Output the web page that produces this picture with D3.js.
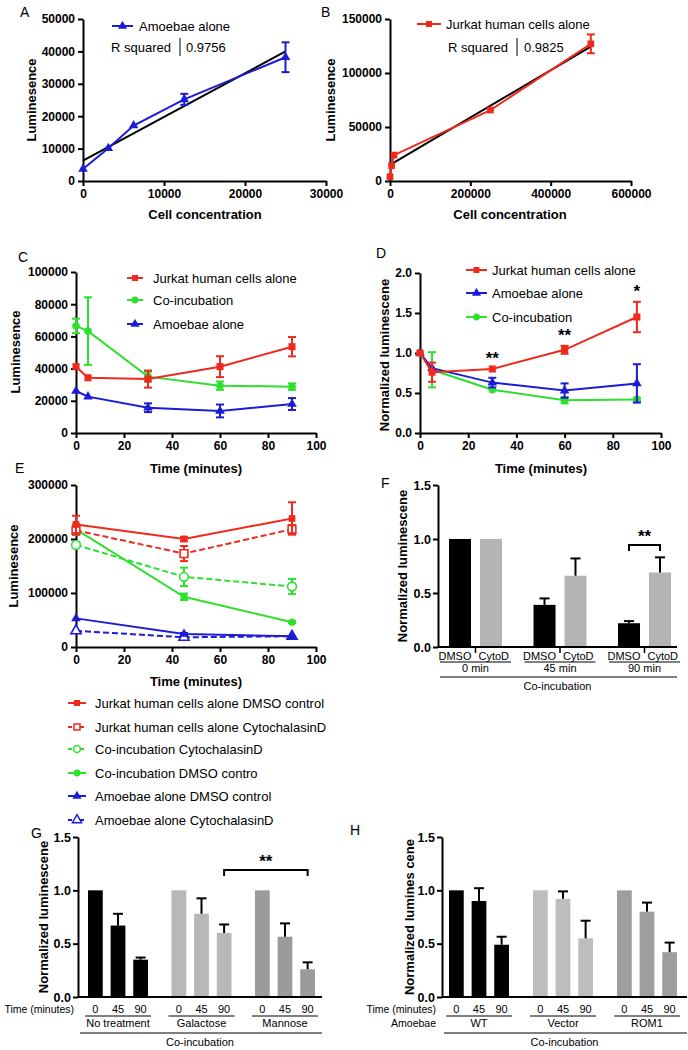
<!DOCTYPE html>
<html><head><meta charset="utf-8">
<script src="https://cdn.jsdelivr.net/npm/d3@7"></script>
<style>body{margin:0;background:#fff}svg{display:block}</style>
</head><body><script>
// ---------------- DATA ----------------
// Panel A
const aConc = [0, 3125, 6250, 12500, 25000];
const aLum = [3700, 10100, 17100, 25200, 38200];
const aErr = [0, 0, 0, 1700, 4600];
const aFitX = [0, 25000];
const aFitY = [6300, 40000];
const aR2 = "0.9756";
// Panel B
const bConc = [0, 4000, 10000, 250000, 500000];
const bLum = [4000, 14200, 24000, 65700, 127000];
const bErr = [0, 0, 0, 0, 8700];
const bFitX = [0, 500000];
const bFitY = [15000, 124500];
const bR2 = "0.9825";
// Panel C
const timeC = [0, 5, 30, 60, 90];
const cJurkat = [41200, 34300, 33500, 41200, 53600];
const cJurkatErr = [0, 0, 5300, 6500, 6000];
const cCoinc = [66500, 63300, 35000, 29400, 28800];
const cCoincErr = [4500, 21000, 3000, 2600, 2000];
const cAmoeba = [26100, 22600, 15700, 13700, 18000];
const cAmoebaErr = [0, 0, 2700, 4000, 3700];
// Panel D
const timeD = [0, 5, 30, 60, 90];
const dJurkat = [1.0, 0.76, 0.80, 1.04, 1.45];
const dJurkatErr = [0, 0.12, 0, 0.05, 0.19];
const dAmoeba = [1.0, 0.81, 0.63, 0.53, 0.62];
const dAmoebaErr = [0, 0, 0.06, 0.09, 0.24];
const dCoinc = [1.0, 0.79, 0.54, 0.41, 0.42];
const dCoincErr = [0, 0.22, 0, 0.04, 0.02];
const dStars = ["", "", "**", "**", "*"];
// Panel E
const timeE = [0, 45, 90];
const eJurkatDMSO = [227000, 200000, 238000];
const eJurkatDMSOErr = [16000, 4000, 30000];
const eJurkatCyto = [216000, 173000, 218000];
const eJurkatCytoErr = [8000, 14000, 8000];
const eCoincCyto = [189000, 130000, 112000];
const eCoincCytoErr = [5000, 17000, 14000];
const eCoincDMSO = [218000, 93000, 46000];
const eCoincDMSOErr = [10000, 6000, 2000];
const eAmoebaDMSO = [53000, 24000, 20000];
const eAmoebaDMSOErr = [0, 2000, 0];
const eAmoebaCyto = [30000, 18000, 20000];
const eAmoebaCytoErr = [0, 3000, 0];
const eLegend = ["Jurkat human cells alone DMSO control", "Jurkat human cells alone CytochalasinD",
  "Co-incubation CytochalasinD", "Co-incubation DMSO contro", "Amoebae alone DMSO control", "Amoebae alone CytochalasinD"];
// Panel F
const fGroups = ["0 min", "45 min", "90 min"];
const fTreat = ["DMSO", "CytoD"];
const fDMSO = [1.0, 0.39, 0.22];
const fDMSOErr = [0, 0.06, 0.02];
const fCyto = [1.0, 0.66, 0.69];
const fCytoErr = [0, 0.16, 0.14];
// Panel G
const gGroups = ["No treatment", "Galactose", "Mannose"];
const gTimes = ["0", "45", "90"];
const gNoTreat = [1.0, 0.67, 0.35];
const gNoTreatErr = [0, 0.11, 0.02];
const gGal = [1.0, 0.78, 0.60];
const gGalErr = [0, 0.145, 0.08];
const gMan = [1.0, 0.565, 0.26];
const gManErr = [0, 0.125, 0.065];
// Panel H
const hGroups = ["WT", "Vector", "ROM1"];
const hTimes = ["0", "45", "90"];
const hWT = [1.0, 0.90, 0.49];
const hWTErr = [0, 0.12, 0.075];
const hVector = [1.0, 0.92, 0.55];
const hVectorErr = [0, 0.07, 0.165];
const hROM1 = [1.0, 0.80, 0.42];
const hROM1Err = [0, 0.085, 0.09];

// ---------------- STYLE ----------------
const FONT = "'Liberation Sans', Arial, sans-serif";
const RED = "#ee2a1e", GREEN = "#2ee02e", BLUE = "#1c1cd6";
const svg = d3.select("body").append("svg").attr("width", 688).attr("height", 1050)
  .attr("font-family", FONT);
svg.append("rect").attr("width", 688).attr("height", 1050).attr("fill", "#fff");

function txt(x, y, s, o = {}) {
  const t = svg.append("text").attr("x", x).attr("y", y).text(s)
    .attr("font-size", o.size || 13).attr("font-weight", o.bold ? "bold" : "normal")
    .attr("text-anchor", o.anchor || "start").attr("fill", o.fill || "#000");
  if (o.rot) t.attr("transform", `rotate(-90,${x},${y})`);
  return t;
}
function styleAxis(a, fs) {
  a.attr("font-family", FONT);
  a.select(".domain").attr("stroke", "#000").attr("stroke-width", 2);
  a.selectAll(".tick line").attr("stroke", "#000").attr("stroke-width", 2);
  a.selectAll("text").attr("font-size", fs || 12).attr("font-weight", "bold").attr("fill", "#000");
}
function xyPanel(o) {
  const x = d3.scaleLinear().domain(o.xd).range(o.xr);
  const y = d3.scaleLinear().domain(o.yd).range(o.yr);
  const g = svg.append("g");
  const ax = g.append("g").attr("transform", `translate(0,${o.yr[0]})`)
    .call(d3.axisBottom(x).tickValues(o.xt).tickSize(5).tickSizeOuter(0).tickPadding(3).tickFormat(d3.format("d")));
  const ay = g.append("g").attr("transform", `translate(${o.xr[0]},0)`)
    .call(d3.axisLeft(y).tickValues(o.yt).tickSize(5).tickSizeOuter(0).tickPadding(3).tickFormat(o.yfmt || d3.format("d")));
  styleAxis(ax, o.fs); styleAxis(ay, o.fs);
  return { x, y, g };
}
function drawSeries(P, xs, ys, es, s) {
  const pts = xs.map((d, i) => ({ x: d, y: ys[i], e: es ? es[i] : 0 }));
  P.g.append("path").datum(pts).attr("fill", "none").attr("stroke", s.color).attr("stroke-width", 2)
    .attr("stroke-dasharray", s.dash ? "6,3" : null)
    .attr("d", d3.line().x(d => P.x(d.x)).y(d => P.y(d.y)));
  const eb = P.g.append("g").attr("stroke", s.color).attr("stroke-width", 2);
  pts.filter(d => d.e > 0).forEach(d => {
    const cx = P.x(d.x), y1 = P.y(d.y + d.e), y2 = P.y(d.y - d.e);
    eb.append("line").attr("x1", cx).attr("x2", cx).attr("y1", y1).attr("y2", y2);
    [y1, y2].forEach(yy => eb.append("line").attr("x1", cx - 4).attr("x2", cx + 4).attr("y1", yy).attr("y2", yy));
  });
  P.g.append("g").selectAll("path").data(pts).enter().append("path")
    .attr("transform", d => `translate(${P.x(d.x)},${P.y(d.y)})`)
    .attr("d", d3.symbol().type(s.sym).size(s.size || 45))
    .attr("fill", s.open ? "#fff" : s.color).attr("stroke", s.color).attr("stroke-width", s.open ? 1.6 : 0);
}
function legendItem(x1, x2, cy, tx, label, s, fs) {
  svg.append("line").attr("x1", x1).attr("x2", x2).attr("y1", cy).attr("y2", cy)
    .attr("stroke", s.color).attr("stroke-width", 2).attr("stroke-dasharray", s.dash ? "4,2" : null);
  svg.append("path").attr("transform", `translate(${(x1 + x2) / 2},${cy})`)
    .attr("d", d3.symbol().type(s.sym).size(s.lsize || 36))
    .attr("fill", s.open ? "#fff" : s.color).attr("stroke", s.color).attr("stroke-width", s.open ? 1.5 : 0);
  txt(tx, cy + 4.5, label, { size: fs || 13 });
}

const SQ = d3.symbolSquare, CI = d3.symbolCircle, TR = d3.symbolTriangle;

// ---------------- PANEL A ----------------
{
  const P = xyPanel({ xd: [0, 30000], xr: [83, 326], yd: [0, 50000], yr: [181, 19],
    xt: [0, 10000, 20000, 30000], yt: [0, 10000, 20000, 30000, 40000, 50000] });
  P.g.append("path").datum(aFitX.map((d, i) => [d, aFitY[i]])).attr("stroke", "#000").attr("stroke-width", 2)
    .attr("fill", "none").attr("d", d3.line().x(d => P.x(d[0])).y(d => P.y(d[1])));
  drawSeries(P, aConc, aLum, aErr, { color: BLUE, sym: TR, size: 40 });
  legendItem(112, 133, 26, 139, "Amoebae alone", { color: BLUE, sym: TR });
  txt(111, 52, "R squared", { size: 13 });
  svg.append("line").attr("x1", 180).attr("x2", 180).attr("y1", 38).attr("y2", 56).attr("stroke", "#000").attr("stroke-width", 1);
  txt(186, 52, aR2, { size: 13 });
  txt(205, 219, "Cell concentration", { size: 13, bold: true, anchor: "middle" });
  txt(36, 100, "Luminesence", { size: 13, bold: true, anchor: "middle", rot: true });
  txt(20, 17, "A", { size: 14 });
}
// ---------------- PANEL B ----------------
{
  const P = xyPanel({ xd: [0, 600000], xr: [390, 631], yd: [0, 150000], yr: [181, 19],
    xt: [0, 200000, 400000, 600000], yt: [0, 50000, 100000, 150000] });
  P.g.append("path").datum(bFitX.map((d, i) => [d, bFitY[i]])).attr("stroke", "#000").attr("stroke-width", 2)
    .attr("fill", "none").attr("d", d3.line().x(d => P.x(d[0])).y(d => P.y(d[1])));
  drawSeries(P, bConc, bLum, bErr, { color: RED, sym: SQ, size: 45 });
  legendItem(417, 441, 24, 446, "Jurkat human cells alone", { color: RED, sym: SQ });
  txt(448, 52, "R squared", { size: 13 });
  svg.append("line").attr("x1", 517).attr("x2", 517).attr("y1", 38).attr("y2", 56).attr("stroke", "#000").attr("stroke-width", 1);
  txt(524, 52, bR2, { size: 13 });
  txt(510, 219, "Cell concentration", { size: 13, bold: true, anchor: "middle" });
  txt(335, 100, "Luminesence", { size: 13, bold: true, anchor: "middle", rot: true });
  txt(321, 17, "B", { size: 14 });
}
// ---------------- PANEL C ----------------
{
  const P = xyPanel({ xd: [0, 100], xr: [76, 316], yd: [0, 100000], yr: [433, 272],
    xt: [0, 20, 40, 60, 80, 100], yt: [0, 20000, 40000, 60000, 80000, 100000] });
  drawSeries(P, timeC, cAmoeba, cAmoebaErr, { color: BLUE, sym: TR, size: 40 });
  drawSeries(P, timeC, cCoinc, cCoincErr, { color: GREEN, sym: CI, size: 45 });
  drawSeries(P, timeC, cJurkat, cJurkatErr, { color: RED, sym: SQ, size: 50 });
  legendItem(127, 143, 278, 153, "Jurkat human  cells alone", { color: RED, sym: SQ });
  legendItem(127, 143, 300, 153, "Co-incubation", { color: GREEN, sym: CI });
  legendItem(127, 143, 324, 153, "Amoebae alone", { color: BLUE, sym: TR });
  txt(196, 473, "Time (minutes)", { size: 13, bold: true, anchor: "middle" });
  txt(20, 352, "Luminesence", { size: 13, bold: true, anchor: "middle", rot: true });
  txt(18, 262, "C", { size: 14 });
}
// ---------------- PANEL D ----------------
{
  const P = xyPanel({ xd: [0, 100], xr: [420, 661], yd: [0, 2], yr: [433, 273],
    xt: [0, 20, 40, 60, 80, 100], yt: [0, 0.5, 1, 1.5, 2], yfmt: d3.format(".1f") });
  drawSeries(P, timeD, dCoinc, dCoincErr, { color: GREEN, sym: CI, size: 45 });
  drawSeries(P, timeD, dAmoeba, dAmoebaErr, { color: BLUE, sym: TR, size: 40 });
  drawSeries(P, timeD, dJurkat, dJurkatErr, { color: RED, sym: SQ, size: 50 });
  P.g.selectAll(".star").data(timeD.map((t, i) => ({ t, s: dStars[i], v: dJurkat[i] + dJurkatErr[i] })).filter(d => d.s))
    .enter().append("text").attr("x", d => P.x(d.t)).attr("y", d => P.y(d.v) - 5)
    .attr("text-anchor", "middle").attr("font-size", 17).attr("font-weight", "bold").text(d => d.s);
  legendItem(466, 487, 270, 492, "Jurkat human cells alone", { color: RED, sym: SQ });
  legendItem(466, 487, 293, 492, "Amoebae alone", { color: BLUE, sym: TR });
  legendItem(466, 487, 317, 492, "Co-incubation", { color: GREEN, sym: CI });
  txt(541, 473, "Time (minutes)", { size: 13, bold: true, anchor: "middle" });
  txt(389, 355, "Normalized luminescene", { size: 13, bold: true, anchor: "middle", rot: true });
  txt(376, 258, "D", { size: 14 });
}
// ---------------- PANEL E ----------------
{
  const P = xyPanel({ xd: [0, 100], xr: [76, 316], yd: [0, 300000], yr: [647, 485],
    xt: [0, 20, 40, 60, 80, 100], yt: [0, 100000, 200000, 300000] });
  const ss = [
    { d: eAmoebaCyto, e: eAmoebaCytoErr, s: { color: BLUE, sym: TR, open: true, dash: true, size: 45 } },
    { d: eAmoebaDMSO, e: eAmoebaDMSOErr, s: { color: BLUE, sym: TR, size: 40 } },
    { d: eCoincCyto, e: eCoincCytoErr, s: { color: GREEN, sym: CI, open: true, dash: true, size: 60 } },
    { d: eCoincDMSO, e: eCoincDMSOErr, s: { color: GREEN, sym: CI, size: 40 } },
    { d: eJurkatCyto, e: eJurkatCytoErr, s: { color: RED, sym: SQ, open: true, dash: true, size: 60 } },
    { d: eJurkatDMSO, e: eJurkatDMSOErr, s: { color: RED, sym: SQ, size: 45 } },
  ];
  ss.forEach(o => drawSeries(P, timeE, o.d, o.e, o.s));
  txt(196, 686, "Time (minutes)", { size: 13, bold: true, anchor: "middle" });
  txt(18, 566, "Luminesence", { size: 13, bold: true, anchor: "middle", rot: true });
  txt(15, 473, "E", { size: 14 });
  const legS = [
    { color: RED, sym: SQ }, { color: RED, sym: SQ, open: true, dash: true },
    { color: GREEN, sym: CI, open: true, dash: true }, { color: GREEN, sym: CI },
    { color: BLUE, sym: TR }, { color: BLUE, sym: TR, open: true, dash: true }];
  const legY = [703, 727, 749, 773, 796, 820];
  eLegend.forEach((l, i) => legendItem(68, 86, legY[i], 95, l, legS[i], 13));
}
// ---------------- BAR PANELS ----------------
function barPanel(o) {
  const y = d3.scaleLinear().domain([0, 1.5]).range(o.yr);
  const x0 = d3.scaleBand().domain(o.groups).range(o.gr).paddingInner(o.gpad).paddingOuter(0);
  const x1 = d3.scaleBand().domain(o.subs).range([0, x0.bandwidth()]).paddingInner(o.spad).paddingOuter(0);
  const g = svg.append("g");
  const recs = [];
  o.groups.forEach((gr, gi) => o.subs.forEach((sb, si) => {
    recs.push({ gr, sb, si, v: o.val(gi, si), e: o.err(gi, si), c: o.color(gi, si) });
  }));
  g.selectAll("rect").data(recs).enter().append("rect")
    .attr("x", d => x0(d.gr) + x1(d.sb)).attr("width", x1.bandwidth())
    .attr("y", d => y(d.v)).attr("height", d => y(0) - y(d.v)).attr("fill", d => d.c);
  const eg = g.append("g").attr("stroke", "#000").attr("stroke-width", 2);
  recs.filter(d => d.e > 0).forEach(d => {
    const cx = x0(d.gr) + x1(d.sb) + x1.bandwidth() / 2;
    eg.append("line").attr("x1", cx).attr("x2", cx).attr("y1", y(d.v)).attr("y2", y(d.v + d.e));
    eg.append("line").attr("x1", cx - 5).attr("x2", cx + 5).attr("y1", y(d.v + d.e)).attr("y2", y(d.v + d.e));
  });
  const ay = g.append("g").attr("transform", `translate(${o.ax},0)`)
    .call(d3.axisLeft(y).tickValues([0, 0.5, 1, 1.5]).tickSize(5).tickSizeOuter(0).tickPadding(2).tickFormat(d3.format(".1f")));
  styleAxis(ay, 12.5);
  g.append("line").attr("x1", o.ax).attr("x2", o.axEnd).attr("y1", y(0)).attr("y2", y(0)).attr("stroke", "#000").attr("stroke-width", 2);
  // sub labels
  recs.forEach(d => {
    if (o.subPlace) {
      const p = o.subPlace(d, x0, x1);
      txt(p.x, o.subY, d.sb, { size: 11, anchor: p.anchor });
    } else {
      txt(x0(d.gr) + x1(d.sb) + x1.bandwidth() / 2, o.subY, d.sb, { size: 11, anchor: "middle" });
    }
  });
  o.groups.forEach(gr => {
    const a = x0(gr) - o.ulExt, b = x0(gr) + x0.bandwidth() + o.ulExt;
    svg.append("line").attr("x1", a).attr("x2", b).attr("y1", o.ulY).attr("y2", o.ulY).attr("stroke", "#000").attr("stroke-width", 1);
    txt((a + b) / 2, o.grY, gr, { size: 11, anchor: "middle" });
  });
  svg.append("line").attr("x1", o.ax + 2).attr("x2", o.axEnd).attr("y1", o.longY).attr("y2", o.longY).attr("stroke", "#000").attr("stroke-width", 1);
  txt((o.ax + o.axEnd) / 2, o.longY + 13, "Co-incubation", { size: 11, anchor: "middle" });
  return { y, x0, x1, g };
}
// Panel F
{
  const B = barPanel({ yr: [647, 485], groups: fGroups, subs: fTreat, gr: [449, 671], gpad: 0.373, spad: 0.29,
    val: (g, s) => s === 0 ? fDMSO[g] : fCyto[g], err: (g, s) => s === 0 ? fDMSOErr[g] : fCytoErr[g],
    color: (g, s) => s === 0 ? "#000" : "#b4b4b4", ax: 438, axEnd: 677,
    subPlace: (d, x0, x1) => {
      const mid = x0(d.gr) + x0.bandwidth() / 2;
      return d.si === 0 ? { x: mid - 4, anchor: "end" } : { x: mid + 3, anchor: "start" };
    },
    subY: 660, ulY: 662, ulExt: 9, grY: 672, longY: 677 });
  // small ticks between sub bars
  fGroups.forEach(gr => {
    const xm = B.x0(gr) + B.x0.bandwidth() / 2;
    svg.append("line").attr("x1", xm).attr("x2", xm).attr("y1", 648).attr("y2", 653).attr("stroke", "#000").attr("stroke-width", 1.5);
  });
  const gr = fGroups[2];
  const xa = B.x0(gr) + B.x1(fTreat[0]) + B.x1.bandwidth() / 2, xb = B.x0(gr) + B.x1(fTreat[1]) + B.x1.bandwidth() / 2;
  svg.append("path").attr("d", `M${xa},551V545H${xb}V551`).attr("fill", "none").attr("stroke", "#000").attr("stroke-width", 2);
  txt((xa + xb) / 2, 542, "**", { size: 17, bold: true, anchor: "middle" });
  txt(407, 566, "Normalized luminescene", { size: 13, bold: true, anchor: "middle", rot: true });
  txt(381, 488, "F", { size: 14 });
}
// Panel G
{
  const gVals = [gNoTreat, gGal, gMan], gErrs = [gNoTreatErr, gGalErr, gManErr];
  const gCols = ["#000", "#b8b8b8", "#9b9b9b"];
  const B = barPanel({ yr: [997, 837], groups: gGroups, subs: gTimes, gr: [88, 315], gpad: 0.2814, spad: 0.348,
    val: (g, s) => gVals[g][s], err: (g, s) => gErrs[g][s], color: (g) => gCols[g], ax: 78, axEnd: 322,
    subY: 1013, ulY: 1016, ulExt: 3, grY: 1027, longY: 1033 });
  txt(74, 1013, "Time (minutes)", { size: 10.5, anchor: "end" });
  const xa = B.x0(gGroups[1]) + B.x1(gTimes[2]) + B.x1.bandwidth() / 2, xb = B.x0(gGroups[2]) + B.x1(gTimes[2]) + B.x1.bandwidth() / 2;
  svg.append("path").attr("d", `M${xa},876V870H${xb}V876`).attr("fill", "none").attr("stroke", "#000").attr("stroke-width", 2);
  txt((xa + xb) / 2, 867, "**", { size: 17, bold: true, anchor: "middle" });
  txt(48, 917, "Normalized luminescene", { size: 13, bold: true, anchor: "middle", rot: true });
  txt(31, 838, "G", { size: 14 });
}
// Panel H
{
  const hVals = [hWT, hVector, hROM1], hErrs = [hWTErr, hVectorErr, hROM1Err];
  const hCols = ["#000", "#bdbdbd", "#9e9e9e"];
  barPanel({ yr: [997, 837], groups: hGroups, subs: hTimes, gr: [449, 677], gpad: 0.286, spad: 0.348,
    val: (g, s) => hVals[g][s], err: (g, s) => hErrs[g][s], color: (g) => hCols[g], ax: 442, axEnd: 687,
    subY: 1013, ulY: 1016, ulExt: 3, grY: 1027, longY: 1033 });
  txt(436, 1013, "Time (minutes)", { size: 10.5, anchor: "end" });
  txt(436, 1027, "Amoebae", { size: 10.5, anchor: "end" });
  txt(414, 917, "Normalized lumines cene", { size: 13, bold: true, anchor: "middle", rot: true });
  txt(350, 835, "H", { size: 14 });
}
</script></body></html>
